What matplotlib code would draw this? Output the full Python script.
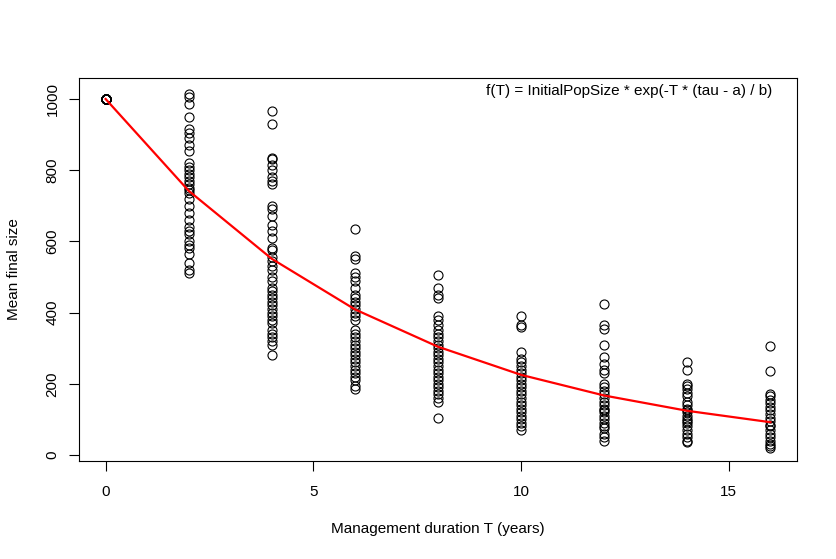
import matplotlib.pyplot as plt

plt.rcParams['font.family'] = ['Liberation Sans', 'DejaVu Sans']

# mean final size for each management duration
durations = [0, 2, 4, 6, 8, 10, 12, 14, 16]
sizes_T0 = [1000] * 20
sizes_T2 = [1015, 1005, 985, 950, 915, 905, 890, 870, 855, 820, 810, 800, 790,
            780, 770, 760, 750, 745, 735, 720, 700, 680, 660, 640, 630, 620,
            600, 590, 580, 565, 540, 520, 510]
sizes_T4 = [965, 930, 835, 830, 815, 800, 780, 770, 760, 700, 690, 670, 645,
            630, 610, 580, 575, 555, 545, 530, 520, 500, 490, 470, 460, 450,
            440, 430, 420, 410, 400, 390, 380, 370, 350, 340, 330, 320, 310, 280]
sizes_T6 = [635, 560, 550, 510, 500, 490, 470, 450, 440, 430, 420, 410, 400,
            390, 380, 350, 340, 330, 320, 310, 300, 290, 280, 270, 260, 250,
            240, 230, 220, 210, 195, 185]
sizes_T8 = [505, 470, 450, 440, 390, 380, 365, 350, 340, 330, 320, 310, 300,
            290, 280, 270, 260, 250, 240, 230, 220, 210, 200, 190, 180, 170,
            160, 150, 105]
sizes_T10 = [390, 365, 360, 290, 270, 260, 250, 240, 230, 220, 210, 200, 190,
             180, 170, 160, 150, 140, 130, 120, 110, 100, 90, 80, 70]
sizes_T12 = [425, 365, 355, 310, 275, 255, 240, 230, 200, 190, 180, 170, 160,
             150, 140, 130, 125, 120, 110, 100, 90, 80, 75, 60, 50, 40]
sizes_T14 = [260, 240, 200, 195, 185, 175, 165, 150, 140, 130, 125, 120, 110,
             100, 95, 90, 80, 70, 60, 50, 40, 35]
sizes_T16 = [305, 235, 170, 165, 155, 145, 135, 125, 115, 105, 95, 85, 80, 70,
             60, 50, 40, 30, 25, 20]
all_sizes = [sizes_T0, sizes_T2, sizes_T4, sizes_T6, sizes_T8, sizes_T10,
             sizes_T12, sizes_T14, sizes_T16]

# fitted curve values at each duration
fitted = [1000, 742, 551, 409, 304, 225, 167, 124, 92]

fig = plt.figure(figsize=(8.37, 5.59), dpi=100)
ax = fig.add_axes([0.0944, 0.1753, 0.8578, 0.6852])

for T, vals in zip(durations, all_sizes):
    ax.plot([T] * len(vals), vals, linestyle='none', marker='o', markersize=6.5,
            markerfacecolor='none', markeredgecolor='black', markeredgewidth=0.8)

ax.plot(durations, fitted, color='red', linewidth=1.6)

ax.set_xlim(-0.64, 16.64)
ax.set_ylim(-17, 1059)
ax.set_xticks([0, 5, 10, 15])
ax.set_yticks([0, 200, 400, 600, 800, 1000])
ax.tick_params(direction='out', length=7, width=0.8, labelsize=11)
ax.tick_params(axis='x', pad=10)
ax.tick_params(axis='y', pad=7)
for lbl in ax.get_yticklabels():
    lbl.set_rotation(90)
    lbl.set_va('center')
for s in ax.spines.values():
    s.set_linewidth(0.8)

ax.set_xlabel('Management duration T (years)', fontsize=11, labelpad=17)
ax.set_ylabel('Mean final size', fontsize=11, labelpad=18)
ax.text(0.966, 0.985, 'f(T) = InitialPopSize * exp(-T * (tau - a) / b)',
        transform=ax.transAxes, ha='right', va='top', fontsize=11)

fig.savefig('out.png')
